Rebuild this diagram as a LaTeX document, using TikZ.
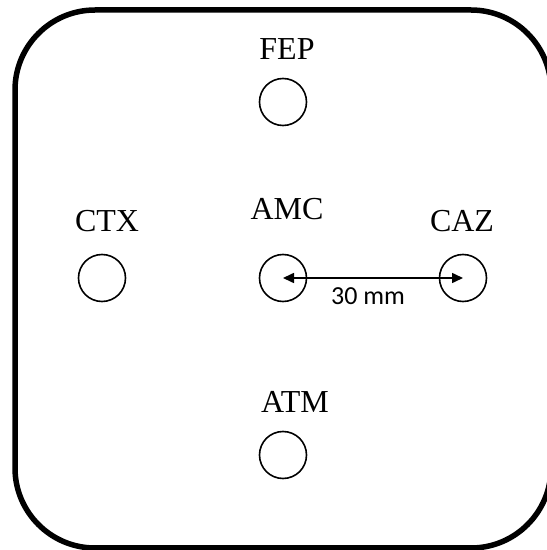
\documentclass[tikz,border=0pt]{standalone}
\usepackage{fontspec}
\setmainfont{Liberation Serif}
\setsansfont{Carlito}
\usetikzlibrary{arrows.meta, positioning}

\begin{document}
\begin{tikzpicture}[
    x=1pt, y=1pt,
    on grid,
    disc/.style={circle, draw, line width=1.6pt, minimum size=47pt, inner sep=0pt},
    tag/.style={font=\fontsize{32}{38}\selectfont},
    arrow/.style={{Triangle[length=11pt, width=10pt]}-{Triangle[length=11pt, width=10pt]}, line width=1.6pt}
]
    \useasboundingbox (0,0) rectangle (547,550);
    \draw[line width=5.5pt, rounded corners=80pt] (15,2) rectangle (551,540);

    \node[disc] (amc) at (283,272) {};
    \node[disc, above=176pt of amc] (fep) {};
    \node[disc, left=181pt of amc] (ctx) {};
    \node[disc, right=180pt of amc] (caz) {};
    \node[disc, below=177pt of amc] (atm) {};

    \node[tag, above=42pt of fep, anchor=base, xshift=4pt] (fep-name) {FEP};
    \node[tag, above=46pt of ctx, anchor=base, xshift=5pt] (ctx-name) {CTX};
    \node[tag, above=58pt of amc, anchor=base, xshift=4pt] (amc-name) {AMC};
    \node[tag, above=46pt of caz, anchor=base, xshift=-1pt] (caz-name) {CAZ};
    \node[tag, above=42pt of atm, anchor=base, xshift=12pt] (atm-name) {ATM};

    \draw[arrow] (amc.center) -- (caz.center)
        node[pos=0.5, anchor=base, yshift=-27pt, xshift=-5pt, font=\sffamily\fontsize{26}{30}\selectfont] (gap) {30 mm};
\end{tikzpicture}
\end{document}
